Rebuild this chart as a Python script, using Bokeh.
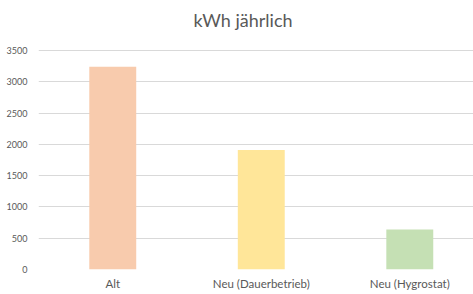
from bokeh.plotting import figure
from bokeh.models import Range1d, FixedTicker
from bokeh.embed import file_html
from bokeh.resources import INLINE

title_text = "kWh jährlich"
categories = ["Alt", "Neu (Dauerbetrieb)", "Neu (Hygrostat)"]
kwh_values = [3240, 1910, 640]
y_ticks = [0, 500, 1000, 1500, 2000, 2500, 3000, 3500]

bar_colors = ["#F8CBAD", "#FFE699", "#C5E0B4"]
positions = list(range(len(categories)))

p = figure(width=473, height=294, output_backend="svg", toolbar_location=None,
           x_range=Range1d(-0.5, 2.429), y_range=Range1d(0, 3740),
           min_border_left=38, min_border_right=0, min_border_top=35, min_border_bottom=25)

p.vbar(x=positions, top=kwh_values, width=0.316, color=bar_colors, line_color=None)

p.title.text = title_text
p.title.align = "left"
p.title.offset = 155
p.title.standoff = 10
p.title.text_font = "Lato"
p.title.text_font_size = "18px"
p.title.text_font_style = "normal"
p.title.text_color = "#595959"

p.xaxis.ticker = FixedTicker(ticks=positions)
p.xaxis.major_label_overrides = {i: c for i, c in zip(positions, categories)}
p.yaxis.ticker = FixedTicker(ticks=y_ticks)

for ax in (p.xaxis, p.yaxis):
    ax.axis_line_color = None
    ax.major_tick_line_color = None
    ax.minor_tick_line_color = None
    ax.major_tick_out = 0
    ax.major_tick_in = 0
    ax.major_label_text_font = "Lato"
    ax.major_label_text_color = "#595959"
p.xaxis.major_label_text_font_size = "11.5px"
p.yaxis.major_label_text_font_size = "9px"
p.xaxis.major_label_standoff = 7
p.yaxis.major_label_standoff = 11

p.xgrid.grid_line_color = None
p.ygrid.grid_line_color = "#D9D9D9"
p.ygrid.grid_line_width = 1
p.outline_line_color = None
p.background_fill_color = "white"
p.border_fill_color = "white"

open("out.html", "w").write(file_html(p, INLINE))
